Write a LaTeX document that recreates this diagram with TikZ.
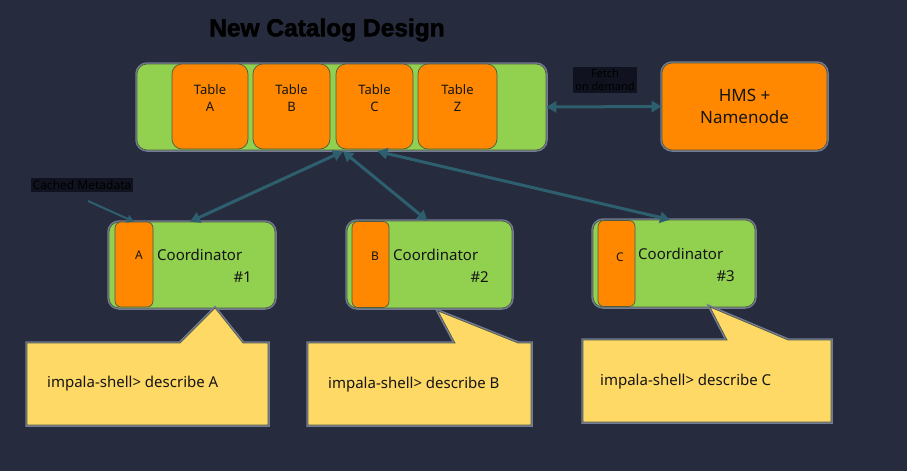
\documentclass[tikz,border=0pt]{standalone}
\usepackage{fontspec}
\setmainfont{Noto Sans}
\newfontfamily\titlefont{Liberation Sans}[BoldFeatures={FakeBold=2}]
\usetikzlibrary{arrows.meta,calc}
\definecolor{bg}{HTML}{262B3D}
\definecolor{cgreen}{HTML}{92D050}
\definecolor{corange}{HTML}{FF8800}
\definecolor{cyellow}{HTML}{FFD966}
\definecolor{arrowc}{HTML}{2E5F6E}
\definecolor{boxline}{HTML}{4E5A45}
\definecolor{halo}{HTML}{737C93}
\definecolor{labbg}{HTML}{10131F}
\definecolor{ink}{HTML}{151515}
\tikzset{
  haloed/.style={preaction={draw=halo,line width=3.5pt}},
  greenbox/.style={draw=boxline,fill=cgreen,rounded corners=10pt,line width=0.7pt,haloed,inner sep=0pt},
  orangebox/.style={draw=boxline,fill=corange,rounded corners=10pt,line width=0.7pt,inner sep=0pt},
  innerbox/.style={draw=boxline,fill=corange,rounded corners=6pt,line width=0.7pt,inner sep=0pt},
  calloutbox/.style={draw=boxline,fill=cyellow,line width=0.7pt,haloed},
  txt/.style={text=ink,inner sep=0pt,font=\fontsize{15}{18}\selectfont},
  tabtxt/.style={text=ink,inner sep=0pt,align=center,font=\fontsize{13}{17}\selectfont},
  darklab/.style={text=black,fill=labbg,inner sep=2pt,align=center,font=\fontsize{11}{13}\selectfont},
  arr/.style={{Triangle[width=11pt,length=10pt]}-{Triangle[width=11pt,length=10pt]},draw=arrowc,line width=3pt},
  arrone/.style={-{Triangle[width=8pt,length=7pt]},draw=arrowc,line width=2pt}
}
\begin{document}
\begin{tikzpicture}[x=1pt,y=-1pt]
\fill[bg] (0,0) rectangle (907,471);
\useasboundingbox (0,0) rectangle (907,471);

% title
\node[text=black,inner sep=0pt,font=\titlefont\fontsize{24.5}{28}\bfseries] (title) at (327,30) {New Catalog Design};

% catalog bar with tables
\node[greenbox,minimum width=409pt,minimum height=86pt] (bar) at (341.5,107) {};
\node[orangebox,minimum width=76pt,minimum height=85pt] (ta) at (210,106.5) {};
\node[orangebox,minimum width=77pt,minimum height=85pt] (tb) at (291.5,106.5) {};
\node[orangebox,minimum width=77pt,minimum height=85pt] (tc) at (374.5,106.5) {};
\node[orangebox,minimum width=79pt,minimum height=85pt] (tz) at (457.5,106.5) {};
\node[tabtxt] (tat) at (210,98) {Table\\A};
\node[tabtxt] (tbt) at (291.5,98) {Table\\B};
\node[tabtxt] (tct) at (374.5,98) {Table\\C};
\node[tabtxt] (tzt) at (457.5,98) {Table\\Z};

% HMS
\node[greenbox,fill=corange,minimum width=165pt,minimum height=87pt,align=center,text=ink,font=\fontsize{17}{22}\selectfont] (hms) at (744.5,106.5) {HMS +\\Namenode};
\draw[arr] (bar.east) -- (hms.west);
\node[darklab] (fetch) at (605,80) {Fetch\\on demand};

% coordinators
\node[greenbox,minimum width=166pt,minimum height=86pt] (c1) at (192,265) {};
\node[innerbox,minimum width=38pt,minimum height=85pt] (o1) at (134,264.5) {};
\node[txt,font=\fontsize{12}{14}\selectfont] (l1) at (139,255) {A};
\node[txt,anchor=west] (n1) at (157,255) {Coordinator};
\node[txt,anchor=east] (h1) at (252,277) {\#1};

\node[greenbox,minimum width=165pt,minimum height=87pt] (c2) at (429.5,264.5) {};
\node[innerbox,minimum width=37pt,minimum height=86pt] (o2) at (370.5,264.5) {};
\node[txt,font=\fontsize{12}{14}\selectfont] (l2) at (375,256) {B};
\node[txt,anchor=west] (n2) at (393,255) {Coordinator};
\node[txt,anchor=east] (h2) at (489,277) {\#2};

\node[greenbox,minimum width=162pt,minimum height=87pt] (c3) at (674,263.5) {};
\node[innerbox,minimum width=37pt,minimum height=86pt] (o3) at (616.5,263.5) {};
\node[txt,font=\fontsize{12}{14}\selectfont] (l3) at (620,257) {C};
\node[txt,anchor=west] (n3) at (638,254) {Coordinator};
\node[txt,anchor=east] (h3) at (735,276) {\#3};

% arrows bar <-> coordinators
\coordinate (s1) at ([xshift=1.5pt,yshift=-1pt]bar.south);
\coordinate (s2) at ([xshift=1.5pt,yshift=-1pt]bar.south);
\coordinate (s3) at ([xshift=36pt,yshift=-1pt]bar.south);
\draw[arr] (s1) -- ([xshift=-2pt]c1.north);
\draw[arr] (s2) -- ([xshift=-2pt]c2.north);
\draw[arr] (s3) -- ([xshift=-4pt]c3.north);

% cached metadata label
\node[darklab,font=\fontsize{12}{14}\selectfont] (cm) at (82,185) {Cached Metadata};
\coordinate (cms) at (88,201);
\draw[arrone] (cms) -- (o1.north);

% callouts
\draw[calloutbox] (27,343) -- (180,343) -- (215,308) -- (243,343) -- (268,343) -- (268,425) -- (27,425) -- cycle;
\node[txt,anchor=west] (q1) at (47,384) {impala-shell> describe A};
\draw[calloutbox] (308,343) -- (455,343) -- (438,311) -- (518,343) -- (531,343) -- (531,425) -- (308,425) -- cycle;
\node[txt,anchor=west] (q2) at (328,385) {impala-shell> describe B};
\draw[calloutbox] (583,340) -- (727,340) -- (710,307) -- (788,340) -- (831,340) -- (831,422) -- (583,422) -- cycle;
\node[txt,anchor=west] (q3) at (600,382) {impala-shell> describe C};
\end{tikzpicture}
\end{document}
